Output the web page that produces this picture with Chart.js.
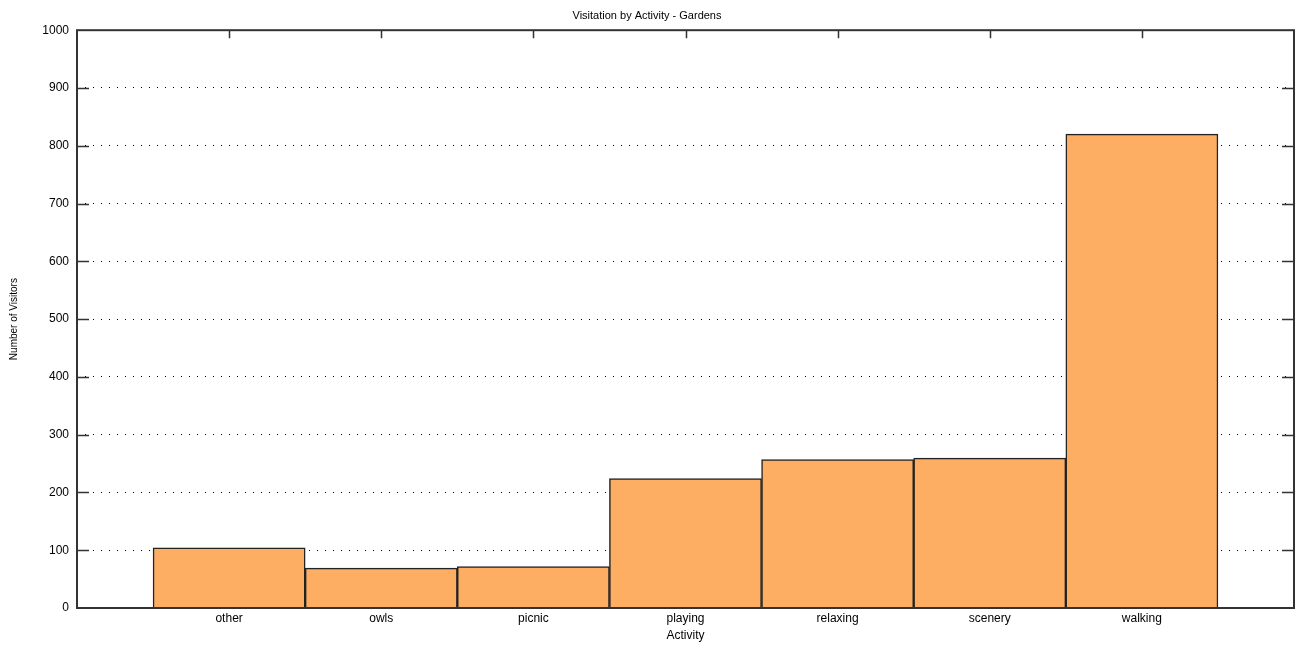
<!DOCTYPE html>
<html>
<head>
<meta charset="utf-8">
<title>Visitation by Activity - Gardens</title>
<script src="https://cdn.jsdelivr.net/npm/chart.js@4.4.1/dist/chart.umd.min.js"></script>
<style>
  html, body { margin: 0; padding: 0; background: #fff; }
  #wrap { width: 1301px; height: 647px; }
</style>
</head>
<body>
<div id="wrap"><canvas id="chart" width="1301" height="647"></canvas></div>
<script>
// activity categories and visitor counts
const activities = ['other', 'owls', 'picnic', 'playing', 'relaxing', 'scenery', 'walking']
const visitors = [104, 69, 71.5, 224, 257, 259.5, 820]
const yTicks = [0, 100, 200, 300, 400, 500, 600, 700, 800, 900, 1000]

const FONT = '"Liberation Sans", Arial, sans-serif'
const AXIS = '#333333'

// frame round the plot plus the short inward tick marks
const frameTicks = {
  id: 'frameTicks',
  afterDraw (chart) {
    const { ctx, chartArea: a, scales } = chart
    ctx.save()
    ctx.strokeStyle = AXIS
    ctx.lineWidth = 1.5
    ctx.beginPath()
    activities.forEach((name, i) => {
      const x = Math.round(scales.x.getPixelForValue(i + 1)) + 0.5
      ctx.moveTo(x, a.top)
      ctx.lineTo(x, a.top + 8)
    })
    yTicks.slice(1, -1).forEach(v => {
      const y = Math.round(scales.y.getPixelForValue(v)) + 0.5
      ctx.moveTo(a.left, y)
      ctx.lineTo(a.left + 12, y)
      ctx.moveTo(a.right, y)
      ctx.lineTo(a.right - 12, y)
    })
    ctx.stroke()
    ctx.lineWidth = 2
    ctx.strokeRect(a.left, a.top, a.right - a.left, a.bottom - a.top)
    ctx.restore()
  }
}

new Chart(document.getElementById('chart').getContext('2d'), {
  type: 'bar',
  data: {
    datasets: [{
      data: activities.map((name, i) => ({ x: i + 1, y: visitors[i] })),
      backgroundColor: '#fdae62',
      borderColor: '#222222',
      borderWidth: 1.5,
      categoryPercentage: 1,
      barPercentage: 1
    }]
  },
  plugins: [frameTicks],
  options: {
    responsive: false,
    animation: false,
    layout: { padding: { left: 0, right: 7, top: 0, bottom: 0 } },
    plugins: {
      legend: { display: false },
      tooltip: { enabled: false },
      title: {
        display: true,
        text: 'Visitation by Activity - Gardens',
        color: '#000',
        font: { family: FONT, size: 11, weight: 'normal' },
        padding: { top: 9, bottom: 8 }
      }
    },
    scales: {
      x: {
        type: 'linear',
        min: 0,
        max: 8,
        offset: false,
        grid: { display: false, drawTicks: false, offset: false },
        border: { display: false },
        afterFit (scale) { scale.height = 39 },
        afterBuildTicks (scale) {
          scale.ticks = activities.map((name, i) => ({ value: i + 1 }))
        },
        ticks: {
          padding: 3,
          maxRotation: 0,
          autoSkip: false,
          color: '#000',
          font: { family: FONT, size: 12 },
          callback: v => activities[v - 1] ?? ''
        },
        title: {
          display: true,
          text: 'Activity',
          color: '#000',
          font: { family: FONT, size: 12 },
          padding: { top: 0, bottom: 4 }
        }
      },
      y: {
        min: 0,
        max: 1000,
        afterFit (scale) { scale.width = 77 },
        afterBuildTicks (scale) {
          scale.ticks = yTicks.map(v => ({ value: v }))
        },
        grid: {
          color: '#000',
          lineWidth: 1,
          drawTicks: false
        },
        border: { display: false, dash: [1, 7] },
        ticks: {
          padding: 8,
          color: '#000',
          font: { family: FONT, size: 12 },
          callback: v => String(v)
        },
        title: {
          display: true,
          text: 'Number of Visitors',
          color: '#000',
          font: { family: FONT, size: 10 },
          padding: { top: 8, bottom: 0 }
        }
      }
    }
  }
})
</script>
</body>
</html>
